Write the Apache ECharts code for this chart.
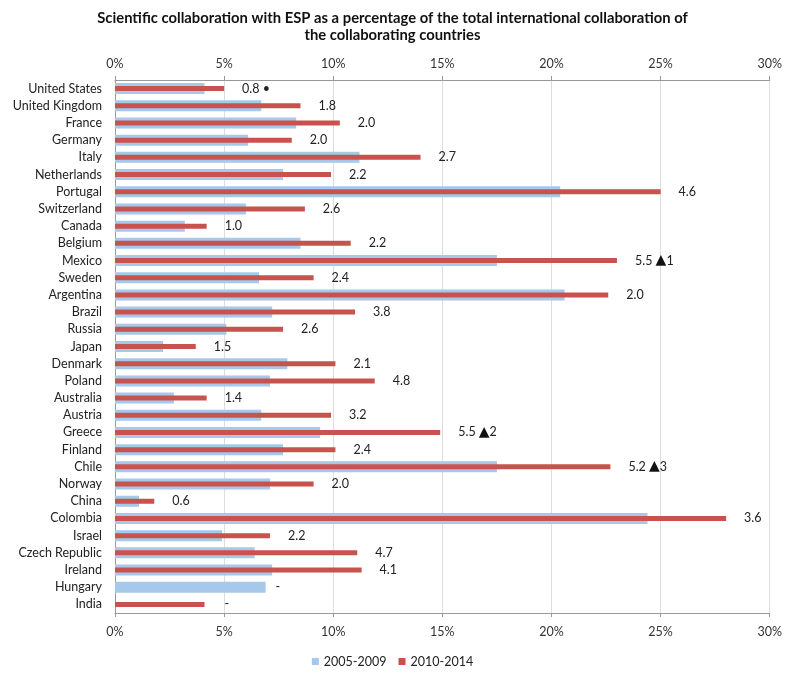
<!DOCTYPE html>
<html>
<head>
<meta charset="utf-8">
<script src="https://cdn.jsdelivr.net/npm/echarts@6/dist/echarts.min.js"></script>
<style>html,body{margin:0;padding:0;background:#fff}#c{width:785px;height:673px}</style>
</head>
<body>
<div id="c"></div>
<script>
const categories = ['United States','United Kingdom','France','Germany','Italy','Netherlands','Portugal','Switzerland','Canada','Belgium','Mexico','Sweden','Argentina','Brazil','Russia','Japan','Denmark','Poland','Australia','Austria','Greece','Finland','Chile','Norway','China','Colombia','Israel','Czech Republic','Ireland','Hungary','India'];
const series2005 = [4.1,6.7,8.3,6.1,11.2,7.7,20.4,6.0,3.2,8.5,17.5,6.6,20.6,7.2,5.1,2.2,7.9,7.1,2.7,6.7,9.4,7.7,17.5,7.1,1.1,24.4,4.9,6.4,7.2,6.9,null];
const series2010 = [5.0,8.5,10.3,8.1,14.0,9.9,25.0,8.7,4.2,10.8,23.0,9.1,22.6,11.0,7.7,3.7,10.1,11.9,4.2,9.9,14.9,10.1,22.7,9.1,1.8,28.0,7.1,11.1,11.3,null,4.1];
const valueLabels = ['0.8 \u2022','1.8','2.0','2.0','2.7','2.2','4.6','2.6','1.0','2.2','5.5 \u25B21','2.4','2.0','3.8','2.6','1.5','2.1','4.8','1.4','3.2','5.5 \u25B22','2.4','5.2 \u25B23','2.0','0.6','3.6','2.2','4.7','4.1','-','-'];
const xTicks = [0,5,10,15,20,25,30];

const FONT = 'Lato, "Open Sans", sans-serif';
const labelStyle = {fontFamily: FONT, fontSize: 12.5, color: '#222',
  rich: {t: {fontFamily: 'DejaVu Sans', fontSize: 14, color: '#111', padding: [0, 0, 1, 0]}}};
const fmt = s => s.replace('\u25B2', '{t|\u25B2}');

const blueData = series2005.map((v, i) => {
  if (series2010[i] === null && v !== null) {
    return {value: v, label: Object.assign({show: true, position: 'right', distance: 10, formatter: fmt(valueLabels[i])}, labelStyle)};
  }
  return v;
});
const redData = series2010.map((v, i) => {
  if (v === null) return v;
  return {value: v, label: Object.assign({show: true, position: 'right', distance: (series2005[i] === null ? 20 : 18), formatter: fmt(valueLabels[i])}, labelStyle)};
});

const chart = echarts.init(document.getElementById('c'), null, {renderer: 'canvas'});
const xAxisBase = {
  type: 'value', min: 0, max: 30, interval: 5,
  axisLabel: {formatter: v => v + '%', fontFamily: FONT, fontSize: 12.5, color: '#333'},
  axisLine: {show: true, lineStyle: {color: '#999'}},
  axisTick: {show: true, length: 4, lineStyle: {color: '#999'}}
};
chart.setOption({
  animation: false,
  backgroundColor: '#fff',
  title: {
    text: 'Scientific collaboration with ESP as a percentage of the total international collaboration of\nthe collaborating countries',
    left: 'center', top: 5,
    textStyle: {fontFamily: FONT, fontSize: 14.8, fontWeight: 'bold', color: '#111', lineHeight: 17}
  },
  legend: {
    bottom: 0, left: 'center',
    itemWidth: 7, itemHeight: 7, itemGap: 12,
    icon: 'rect',
    textStyle: {fontFamily: FONT, fontSize: 12.5, color: '#222'},
    data: ['2005-2009', '2010-2014']
  },
  grid: {left: 115, right: 13, top: 80, bottom: 60},
  xAxis: [
    Object.assign({}, xAxisBase, {position: 'bottom', splitLine: {show: true, lineStyle: {color: '#ddd'}}, axisLabel: Object.assign({}, xAxisBase.axisLabel, {margin: 12})}),
    Object.assign({}, xAxisBase, {position: 'top', splitLine: {show: false}, axisLabel: Object.assign({}, xAxisBase.axisLabel, {margin: 10})})
  ],
  yAxis: [
    {type: 'category', data: categories, inverse: true,
     axisLine: {show: true, lineStyle: {color: '#999'}}, axisTick: {show: false},
     axisLabel: {fontFamily: FONT, fontSize: 12.5, color: '#222', margin: 13}},
    {type: 'category', data: categories, inverse: true, show: false}
  ],
  series: [
    {name: '2005-2009', type: 'bar', xAxisIndex: 0, yAxisIndex: 0, data: blueData, barWidth: 11,
     itemStyle: {color: '#a6c8eb'}},
    {name: '2010-2014', type: 'bar', xAxisIndex: 0, yAxisIndex: 1, data: redData, barWidth: 5,
     itemStyle: {color: '#c8524d'}}
  ]
});
</script>
</body>
</html>
